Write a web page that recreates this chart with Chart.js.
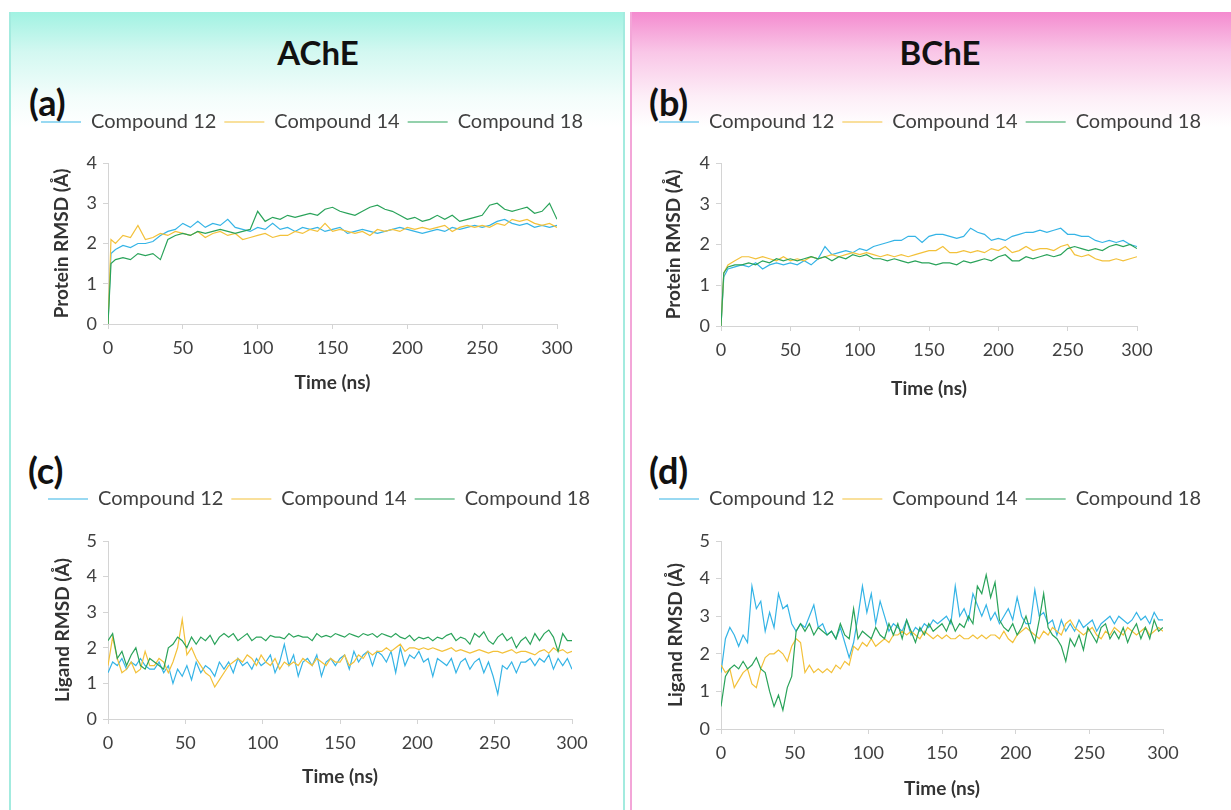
<!DOCTYPE html>
<html>
<head>
<meta charset="utf-8">
<script src="https://cdn.jsdelivr.net/npm/chart.js@4.4.0/dist/chart.umd.min.js"></script>
<style>
  body { margin: 0; width: 1231px; height: 810px; background: #fff; position: relative; overflow: hidden; font-family: Lato, "Open Sans", sans-serif; }
  .panel { position: absolute; top: 12px; height: 810px; box-sizing: border-box; }
  #leftPanel { left: 9px; width: 616px; border-left: 2px solid #a3ebdf; border-right: 2px solid #a3ebdf;
    background: linear-gradient(to bottom, #a1f2e2 0px, #d3f8f1 40px, #f3fdfb 85px, #ffffff 115px); }
  #rightPanel { left: 630px; width: 610px; border-left: 2px solid #f3a6d8;
    background: linear-gradient(to bottom, #f48bcf 0px, #f9c6e7 40px, #fdeef7 85px, #ffffff 115px); }
  .title { position: absolute; font-weight: 700; font-size: 33px; color: #111; transform: translate(-50%, -50%); }
  .tag { position: absolute; font-weight: 700; font-size: 36px; color: #111; transform: translateY(-50%); }
  canvas { position: absolute; }
</style>
</head>
<body>
<div class="panel" id="leftPanel"></div>
<div class="panel" id="rightPanel"></div>
<div class="title" style="left:318px; top:52px;">AChE</div>
<div class="title" style="left:940px; top:52px;">BChE</div>
<div class="tag" style="left:29px; top:102px;">(a)</div>
<div class="tag" style="left:649px; top:102px;">(b)</div>
<div class="tag" style="left:28px; top:470px;">(c)</div>
<div class="tag" style="left:649px; top:470px;">(d)</div>
<canvas id="chartA"></canvas>
<canvas id="chartB"></canvas>
<canvas id="chartC"></canvas>
<canvas id="chartD"></canvas>
<script>
// Series names and colours
const seriesNames = ['Compound 12', 'Compound 14', 'Compound 18'];
const seriesColors = ['#35b4e6', '#f3c13a', '#2aa35a'];

// Time axis (ns) for the protein RMSD panels
const timeP = [0, 2,
  5, 10, 15, 20, 25, 30, 35, 40, 45, 50,
  55, 60, 65, 70, 75, 80, 85, 90, 95, 100,
  105, 110, 115, 120, 125, 130, 135, 140, 145, 150,
  155, 160, 165, 170, 175, 180, 185, 190, 195, 200,
  205, 210, 215, 220, 225, 230, 235, 240, 245, 250,
  255, 260, 265, 270, 275, 280, 285, 290, 295, 300];

// Time axis (ns) for the ligand RMSD panels
const timeL = [
  0, 3, 6, 9, 12, 15, 18, 21, 24, 27,
  30, 33, 36, 39, 42, 45, 48, 51, 54, 57,
  60, 63, 66, 69, 72, 75, 78, 81, 84, 87,
  90, 93, 96, 99, 102, 105, 108, 111, 114, 117,
  120, 123, 126, 129, 132, 135, 138, 141, 144, 147,
  150, 153, 156, 159, 162, 165, 168, 171, 174, 177,
  180, 183, 186, 189, 192, 195, 198, 201, 204, 207,
  210, 213, 216, 219, 222, 225, 228, 231, 234, 237,
  240, 243, 246, 249, 252, 255, 258, 261, 264, 267,
  270, 273, 276, 279, 282, 285, 288, 291, 294, 297,
  300];

// (a) AChE protein RMSD
const ache12 = [0.0, 1.75,
  1.85, 1.95, 1.9, 2.0, 2.0, 2.05, 2.2, 2.3, 2.35, 2.5,
  2.4, 2.55, 2.4, 2.5, 2.45, 2.6, 2.4, 2.35, 2.3, 2.4,
  2.35, 2.5, 2.35, 2.4, 2.3, 2.4, 2.35, 2.4, 2.3, 2.35,
  2.4, 2.25, 2.3, 2.35, 2.3, 2.25, 2.3, 2.35, 2.4, 2.35,
  2.3, 2.25, 2.3, 2.35, 2.3, 2.4, 2.35, 2.4, 2.45, 2.4,
  2.45, 2.55, 2.6, 2.5, 2.45, 2.5, 2.4, 2.45, 2.4, 2.45];
const ache14 = [0.0, 2.1,
  2.0, 2.2, 2.15, 2.45, 2.1, 2.15, 2.25, 2.2, 2.3, 2.25,
  2.2, 2.3, 2.15, 2.25, 2.3, 2.2, 2.25, 2.1, 2.15, 2.2,
  2.25, 2.15, 2.2, 2.2, 2.3, 2.25, 2.35, 2.3, 2.5, 2.3,
  2.35, 2.3, 2.25, 2.3, 2.2, 2.35, 2.3, 2.35, 2.3, 2.4,
  2.35, 2.4, 2.35, 2.4, 2.45, 2.3, 2.4, 2.45, 2.4, 2.45,
  2.4, 2.5, 2.45, 2.6, 2.55, 2.6, 2.5, 2.45, 2.5, 2.4];
const ache18 = [0.0, 1.5,
  1.6, 1.65, 1.6, 1.75, 1.7, 1.75, 1.6, 2.1, 2.2, 2.25,
  2.2, 2.3, 2.25, 2.3, 2.35, 2.3, 2.25, 2.3, 2.35, 2.8,
  2.55, 2.65, 2.6, 2.7, 2.65, 2.7, 2.75, 2.7, 2.85, 2.9,
  2.8, 2.75, 2.7, 2.8, 2.9, 2.95, 2.85, 2.8, 2.7, 2.6,
  2.65, 2.55, 2.6, 2.7, 2.6, 2.7, 2.55, 2.6, 2.65, 2.7,
  2.95, 3.0, 2.85, 2.8, 2.85, 2.9, 2.75, 2.8, 3.0, 2.6];

// (b) BChE protein RMSD
const bche12 = [0.0, 1.2,
  1.4, 1.45, 1.5, 1.45, 1.55, 1.4, 1.5, 1.55, 1.5, 1.55,
  1.5, 1.6, 1.5, 1.65, 1.95, 1.75, 1.8, 1.85, 1.8, 1.9,
  1.85, 1.95, 2.0, 2.05, 2.1, 2.1, 2.2, 2.2, 2.05, 2.2,
  2.25, 2.25, 2.2, 2.15, 2.2, 2.4, 2.3, 2.25, 2.1, 2.15,
  2.1, 2.2, 2.25, 2.3, 2.3, 2.35, 2.3, 2.35, 2.4, 2.25,
  2.25, 2.2, 2.2, 2.1, 2.05, 2.1, 2.05, 2.1, 2.0, 1.95];
const bche14 = [0.0, 1.3,
  1.5, 1.6, 1.7, 1.7, 1.65, 1.7, 1.65, 1.6, 1.7, 1.6,
  1.65, 1.6, 1.7, 1.65, 1.7, 1.75, 1.7, 1.75, 1.8, 1.75,
  1.8, 1.75, 1.7, 1.75, 1.7, 1.75, 1.7, 1.75, 1.8, 1.85,
  1.85, 1.95, 1.8, 1.8, 1.85, 1.8, 1.85, 1.8, 1.9, 1.85,
  1.95, 1.8, 1.85, 1.95, 1.85, 1.9, 1.9, 1.85, 1.95, 2.0,
  1.75, 1.7, 1.75, 1.65, 1.6, 1.6, 1.65, 1.6, 1.65, 1.7];
const bche18 = [0.0, 1.3,
  1.45, 1.5, 1.5, 1.55, 1.5, 1.6, 1.55, 1.65, 1.6, 1.65,
  1.6, 1.65, 1.7, 1.65, 1.7, 1.6, 1.7, 1.65, 1.75, 1.7,
  1.75, 1.65, 1.65, 1.6, 1.65, 1.6, 1.55, 1.6, 1.55, 1.55,
  1.5, 1.55, 1.55, 1.5, 1.6, 1.55, 1.6, 1.65, 1.6, 1.7,
  1.75, 1.6, 1.6, 1.7, 1.65, 1.7, 1.75, 1.7, 1.75, 1.9,
  1.95, 1.9, 1.85, 1.9, 1.85, 1.95, 2.0, 1.95, 2.0, 1.9];

// (c) AChE ligand RMSD
const acheLig12 = [
  1.3, 1.6, 1.5, 1.7, 1.4, 1.6, 1.5, 1.7, 1.5, 1.4,
  1.4, 1.6, 1.3, 1.5, 1.0, 1.4, 1.2, 1.5, 1.1, 1.6,
  1.3, 1.5, 1.4, 1.2, 1.6, 1.4, 1.6, 1.3, 1.7, 1.5,
  1.6, 1.4, 1.7, 1.5, 1.6, 1.8, 1.3, 1.6, 2.1, 1.5,
  1.8, 1.2, 1.6, 1.7, 1.5, 1.8, 1.2, 1.6, 1.7, 1.5,
  1.7, 1.8, 1.4, 1.9, 1.6, 1.8, 1.9, 1.5, 1.9, 1.8,
  1.6, 1.9, 1.3, 2.0, 1.5, 1.8, 1.7, 1.9, 1.6, 1.7,
  1.2, 1.7, 1.6, 1.5, 1.7, 1.3, 1.6, 1.7, 1.4, 1.6,
  1.7, 1.3, 1.6, 1.2, 0.7, 1.5, 1.4, 1.6, 1.3, 1.6,
  1.6, 1.7, 1.5, 1.7, 1.6, 1.8, 1.4, 1.7, 1.5, 1.7,
  1.4];
const acheLig14 = [
  1.5, 2.3, 1.7, 1.3, 1.4, 1.6, 1.3, 1.4, 1.9, 1.5,
  1.5, 1.7, 1.6, 1.3, 1.6, 2.0, 2.8, 1.8, 2.0, 1.7,
  1.5, 1.3, 1.2, 0.9, 1.1, 1.3, 1.5, 1.6, 1.7, 1.6,
  1.8, 1.7, 1.5, 1.8, 1.6, 1.5, 1.7, 1.4, 1.6, 1.5,
  1.6, 1.5, 1.7, 1.6, 1.5, 1.7, 1.6, 1.5, 1.7, 1.6,
  1.6, 1.8, 1.5, 1.6, 1.8, 1.7, 1.9, 1.8, 1.9, 1.9,
  2.0, 1.9, 2.0, 2.1, 1.9, 2.0, 2.0, 1.95, 2.0, 1.95,
  2.0, 1.95, 1.9, 1.95, 2.0, 1.9, 1.95, 1.9, 1.85, 1.9,
  1.95, 1.9, 1.85, 1.9, 1.9, 1.85, 1.9, 1.95, 1.85, 1.9,
  1.9, 1.85, 1.8, 1.9, 1.95, 1.85, 2.0, 1.9, 1.95, 1.85,
  1.9];
const acheLig18 = [
  2.2, 2.4, 1.7, 1.9, 1.5, 1.8, 2.0, 1.5, 1.4, 1.7,
  1.6, 1.5, 1.4, 2.0, 2.1, 2.3, 2.2, 2.0, 2.3, 2.1,
  2.3, 2.2, 2.35, 2.1, 2.3, 2.4, 2.3, 2.4, 2.2, 2.3,
  2.4, 2.2, 2.3, 2.3, 2.2, 2.35, 2.3, 2.3, 2.25, 2.4,
  2.3, 2.35, 2.3, 2.3, 2.2, 2.4, 2.3, 2.35, 2.3, 2.4,
  2.35, 2.3, 2.4, 2.35, 2.3, 2.4, 2.35, 2.4, 2.3, 2.4,
  2.35, 2.3, 2.4, 2.3, 2.25, 2.35, 2.2, 2.3, 2.25, 2.3,
  2.2, 2.3, 2.25, 2.35, 2.4, 2.2, 2.3, 2.25, 2.1, 2.4,
  2.3, 2.45, 2.2, 2.1, 2.3, 2.4, 2.2, 2.3, 2.0, 2.2,
  2.3, 2.1, 2.4, 2.2, 2.4, 2.5, 2.3, 1.9, 2.4, 2.2,
  2.2];

// (d) BChE ligand RMSD
const bcheLig12 = [
  1.5, 2.4, 2.7, 2.5, 2.2, 2.5, 2.3, 3.8, 3.2, 3.4,
  2.6, 3.1, 2.7, 3.6, 3.2, 3.3, 2.8, 2.6, 2.8, 2.7,
  3.0, 3.3, 2.7, 2.8, 2.5, 2.6, 2.4, 2.7, 2.3, 1.9,
  2.3, 3.0, 3.8, 3.1, 3.6, 2.8, 3.4, 3.0, 2.6, 2.8,
  2.7, 2.6, 2.9, 2.5, 2.7, 2.6, 2.8, 2.7, 2.9, 2.8,
  2.9, 3.0, 2.8, 3.8, 3.0, 3.2, 2.9, 3.6, 3.3, 3.0,
  3.3, 2.9, 3.1, 2.8, 3.0, 3.2, 2.9, 3.5, 3.0, 2.8,
  2.8, 3.7, 3.0, 3.1, 2.8, 2.9, 2.5, 2.9, 2.6, 2.8,
  2.6, 2.9, 2.7, 2.8, 2.9, 2.6, 2.8, 2.9, 3.0, 2.8,
  3.0, 2.9, 2.8, 2.9, 3.1, 2.9, 3.0, 2.8, 3.1, 2.9,
  2.9];
const bcheLig14 = [
  1.7, 1.5, 1.6, 1.1, 1.3, 1.5, 1.6, 1.2, 1.1, 1.6,
  1.9, 2.0, 2.0, 2.1, 2.0, 1.8, 2.2, 2.4, 2.3, 1.5,
  1.7, 1.5, 1.6, 1.5, 1.6, 1.5, 1.7, 1.6, 1.8, 1.7,
  2.2, 2.1, 2.3, 2.2, 2.4, 2.2, 2.3, 2.4, 2.3, 2.5,
  2.5, 2.6, 2.5, 2.6, 2.5, 2.4, 2.6, 2.5, 2.4, 2.5,
  2.4, 2.5, 2.4, 2.4, 2.5, 2.4, 2.4, 2.5, 2.4, 2.5,
  2.4, 2.5, 2.5, 2.4, 2.6, 2.4, 2.3, 2.5, 2.6, 2.7,
  2.6, 2.5, 2.4, 2.6, 2.5, 2.7, 2.6, 2.5, 2.8, 2.9,
  2.7, 2.6, 2.5, 2.6, 2.7, 2.5, 2.4, 2.6, 2.5, 2.7,
  2.6, 2.5, 2.7, 2.6, 2.5, 2.6, 2.7, 2.5, 2.6, 2.7,
  2.6];
const bcheLig18 = [
  0.6, 1.4, 1.6, 1.7, 1.6, 1.8, 1.6, 1.7, 1.9, 1.6,
  1.5, 1.0, 0.6, 0.9, 0.5, 1.1, 1.4, 2.6, 2.8, 2.6,
  2.8, 2.5, 2.7, 2.6, 2.5, 2.6, 2.4, 2.8, 2.5, 2.4,
  3.2, 2.4, 2.6, 2.5, 2.4, 2.7, 2.5, 2.4, 2.8, 2.5,
  2.8, 2.4, 2.9, 2.6, 2.3, 2.7, 2.5, 2.8, 2.6, 2.7,
  2.8, 2.6, 2.9, 2.6, 2.8, 2.7, 3.0, 2.8, 3.8, 3.6,
  4.1, 3.5, 3.9, 2.9, 2.7, 2.6, 2.8, 2.5, 2.7, 3.0,
  2.6, 2.3, 2.9, 3.6, 2.7, 2.5, 2.4, 2.2, 1.8, 2.4,
  2.2, 2.5, 2.1, 2.7, 2.5, 2.3, 2.7, 2.8, 2.4, 2.6,
  2.4, 2.7, 2.3, 2.6, 2.8, 2.4, 2.7, 2.4, 2.9, 2.6,
  2.7];

Chart.defaults.font.family = "Lato, 'Open Sans', sans-serif";
Chart.defaults.color = '#404040';

const axisGray = '#d4d4d4';

// pushes the plot area down below the legend
function legendGap(gap) {
    return {
        id: 'legendGap',
        beforeInit(chart) {
            const fit = chart.legend.fit;
            chart.legend.fit = function () {
                fit.bind(chart.legend)();
                this.height += gap;
            };
        }
    };
}

function toPoints(times, vals) {
    return vals.map((v, i) => ({ x: times[i], y: v }));
}

function makeChart(id, geo, yTitle, yMax, times, values) {
    const canvas = document.getElementById(id);
    canvas.width = geo.w;
    canvas.height = geo.h;
    canvas.style.left = geo.left + 'px';
    canvas.style.top = geo.top + 'px';

    // order: Compound 18 drawn last (on top), like the spreadsheet original
    const datasets = values.map((vals, i) => ({
        label: seriesNames[i],
        data: toPoints(times, vals),
        borderColor: seriesColors[i],
        backgroundColor: seriesColors[i],
        borderWidth: 1.2,
        pointRadius: 0,
        tension: 0,
        order: 3 - i
    }));

    return new Chart(canvas, {
        type: 'line',
        data: { datasets },
        options: {
            responsive: false,
            animation: false,
            devicePixelRatio: 1,
            layout: { padding: 0 },
            plugins: {
                tooltip: { enabled: false },
                legend: {
                    position: 'top',
                    labels: {
                        usePointStyle: true,
                        pointStyle: 'line',
                        pointStyleWidth: 40,
                        padding: 8,
                        color: '#404040',
                        font: { size: 20 },
                        sort: (a, b) => a.datasetIndex - b.datasetIndex
                    }
                }
            },
            scales: {
                x: {
                    type: 'linear',
                    min: 0,
                    max: 300,
                    afterFit(scale) { scale.height = geo.xh; },
                    ticks: { stepSize: 50, autoSkip: false, maxRotation: 0, padding: 8, font: { size: 18 }, color: '#404040' },
                    grid: { display: true, drawOnChartArea: false, drawTicks: true, tickLength: 5, color: axisGray },
                    border: { display: true, color: axisGray },
                    title: { display: true, text: 'Time (ns)', color: '#333', font: { size: 19, weight: 'bold' }, padding: { top: 0, bottom: 0 } }
                },
                y: {
                    min: 0,
                    max: yMax,
                    afterFit(scale) { scale.width = geo.yw; },
                    ticks: { stepSize: 1, padding: 6, font: { size: 18 }, color: '#404040' },
                    grid: { display: true, drawOnChartArea: false, drawTicks: true, tickLength: 5, color: axisGray },
                    border: { display: true, color: axisGray },
                    title: { display: true, text: yTitle, color: '#333', font: { size: 19, weight: 'bold' }, padding: { top: geo.tp, bottom: 0 } }
                },
                // empty spacer on the right so the legend can run past the plot
                yR: {
                    position: 'right',
                    display: true,
                    afterFit(scale) { scale.width = geo.rw; },
                    ticks: { display: false },
                    grid: { display: false },
                    border: { display: false }
                }
            }
        },
        plugins: [legendGap(geo.gap)]
    });
}

makeChart('chartA', { left: 20, top: 104, w: 584, h: 290, yw: 88, xh: 70, rw: 47, tp: 30, gap: 21 },
    'Protein RMSD (Å)', 4, timeP, [ache12, ache14, ache18]);
makeChart('chartB', { left: 650, top: 104, w: 560, h: 296, yw: 71, xh: 74, rw: 73, tp: 12, gap: 21 },
    'Protein RMSD (Å)', 4, timeP, [bche12, bche14, bche18]);
makeChart('chartC', { left: 20, top: 481, w: 598, h: 307, yw: 88, xh: 69, rw: 46, tp: 31, gap: 22 },
    'Ligand RMSD (Å)', 5, timeL, [acheLig12, acheLig14, acheLig18]);
makeChart('chartD', { left: 650, top: 481, w: 560, h: 319, yw: 71, xh: 71, rw: 47, tp: 14, gap: 22 },
    'Ligand RMSD (Å)', 5, timeL, [bcheLig12, bcheLig14, bcheLig18]);
</script>
</body>
</html>
